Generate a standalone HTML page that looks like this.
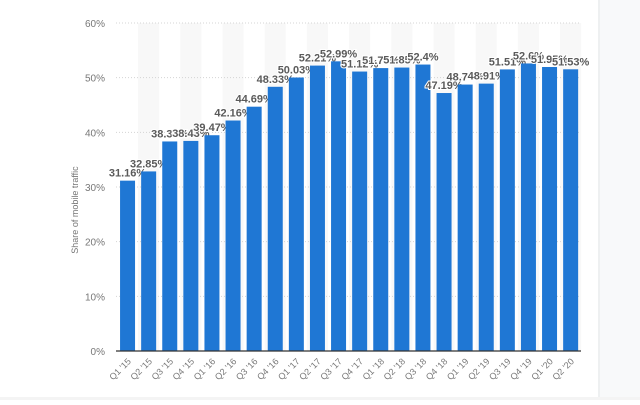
<!DOCTYPE html>
<html><head><meta charset="utf-8"><style>
body{margin:0;width:640px;height:400px;background:#fff;overflow:hidden;font-family:"Liberation Sans",sans-serif}
</style></head><body>
<svg width="640" height="400" xmlns="http://www.w3.org/2000/svg" font-family="Liberation Sans, sans-serif">
<rect x="598" y="0" width="42" height="400" fill="#f8f9fa"/>
<rect x="598" y="0" width="2" height="400" fill="#eef0f1"/>
<rect x="0" y="397" width="640" height="3" fill="#f4f4f4"/>
<g id="stripes"></g>
<g id="grid"></g>
<g id="bars"></g>
<line x1="116" y1="351" x2="581" y2="351" stroke="#333" stroke-width="1.2"/>
<text x="78" y="210" transform="rotate(-90 78 210)" font-size="9" fill="#777" text-anchor="middle">Share of mobile traffic</text>
</svg>
<script>
const v=[31.16,32.85,38.33,38.43,39.47,42.16,44.69,48.33,50.03,52.21,52.99,51.12,51.75,51.85,52.4,47.19,48.74,48.91,51.51,52.6,51.95,51.53];
const lab=["Q1 '15","Q2 '15","Q3 '15","Q4 '15","Q1 '16","Q2 '16","Q3 '16","Q4 '16","Q1 '17","Q2 '17","Q3 '17","Q4 '17","Q1 '18","Q2 '18","Q3 '18","Q4 '18","Q1 '19","Q2 '19","Q3 '19","Q4 '19","Q1 '20","Q2 '20"];
const ns="http://www.w3.org/2000/svg";
function el(p,t,a,txt){const e=document.createElementNS(ns,t);for(const k in a)e.setAttribute(k,a[k]);if(txt!=null)e.textContent=txt;document.getElementById(p).appendChild(e);return e;}
const y0=351,sc=328/60,x0=117,sw=21.1;
for(let i=1;i<22;i+=2)el("stripes","rect",{x:x0+i*sw,y:23,width:sw,height:328,fill:"#f8f8f8"});
for(let k=0;k<=6;k++){const y=y0-k*10*sc;
 if(k>0)el("grid","line",{x1:116,y1:y,x2:581,y2:y,stroke:"#d4d4d4","stroke-dasharray":"1,2","stroke-width":1});
 el("grid","text",{x:105,y:y+4,"font-size":10,fill:"#777","text-anchor":"end"},k*10+"%");}
v.forEach((d,i)=>{const cx=x0+i*sw+sw/2,h=d*sc;
 el("bars","rect",{x:cx-7.5,y:y0-h,width:15,height:h,fill:"#1f77d4"});
 el("bars","text",{x:cx,y:y0-h-4,"font-size":11,"font-weight":"bold",fill:"#5a5a5a","text-anchor":"middle",stroke:"#fff","stroke-width":2,"paint-order":"stroke"},d+"%");
 el("bars","text",{x:cx+4,y:362,"font-size":9,fill:"#777","text-anchor":"end",transform:`rotate(-45 ${cx+4} 362)`},lab[i]);
});
</script>
</body></html>
